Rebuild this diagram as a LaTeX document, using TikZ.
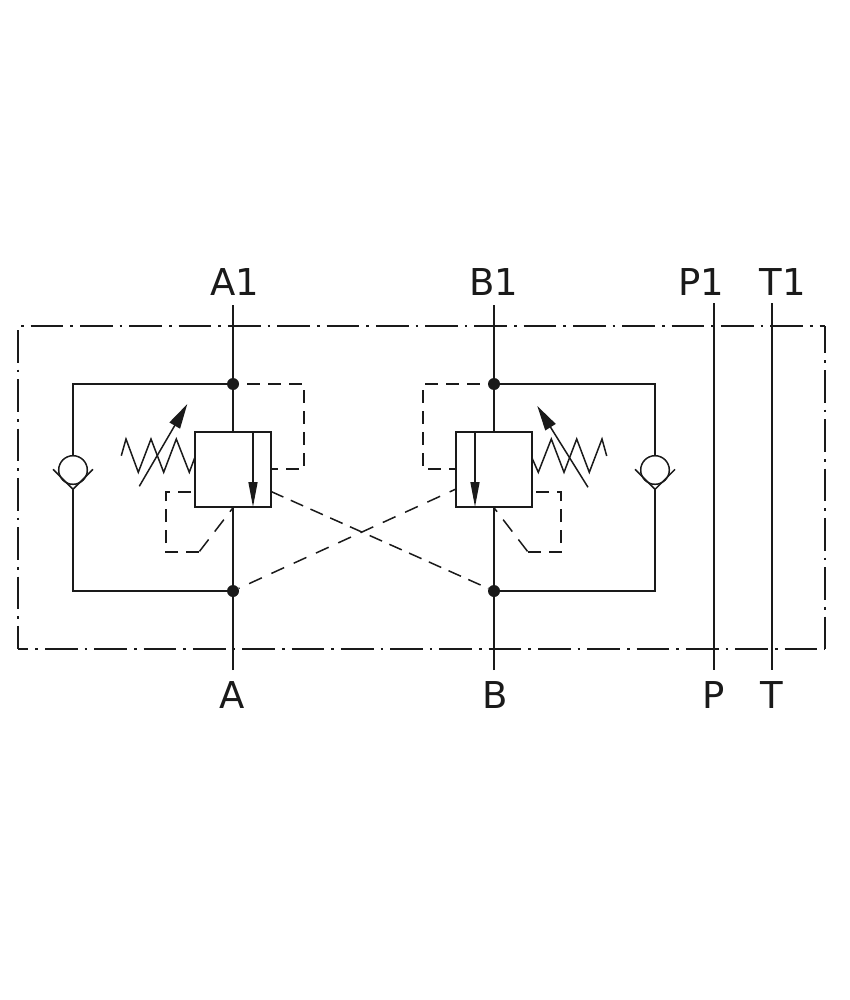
\documentclass[tikz,border=0pt]{standalone}
\usepackage{fontspec}
\setmainfont{DejaVu Sans}
\usetikzlibrary{arrows.meta}
\definecolor{ink}{HTML}{1A1A1A}
\tikzset{
  line/.style={draw=ink,line width=1.5pt,line join=miter},
  pilot/.style={line,dash pattern=on 13pt off 8pt},
  crossa/.style={line,dash pattern=on 13.6pt off 8pt},
  crossb/.style={line,dash pattern=on 14pt off 10.5pt,dash phase=7},
  pilotdiag/.style={line,dash pattern=on 15pt off 10pt,dash phase=10},
  frameline/.style={line,dash pattern=on 32.7pt off 7pt on 2.6pt off 7pt},
  valve/.style={line,rectangle,minimum width=76pt,minimum height=75pt,inner sep=0pt,fill=none},
  junction/.style={circle,fill=ink,minimum size=12pt,inner sep=0pt},
  ball/.style={line,circle,minimum size=28.6pt,inner sep=0pt},
  port/.style={text=ink,font=\fontsize{37}{40}\selectfont,inner sep=0pt},
  flow/.style={line,-{Triangle[length=25pt,width=9pt]}},
  adjust/.style={line,-{Triangle[length=25pt,width=12pt]}}
}
\begin{document}
\begin{tikzpicture}[x=1pt,y=-1pt]
\useasboundingbox (0,0) rectangle (850,1000);
% frame
\coordinate (fTL) at (18,326);
\coordinate (fTR) at (825,326);
\coordinate (fBR) at (825,649);
\coordinate (fBL) at (18,649);
\draw[frameline,dash phase=36.6] (fTL) -- (fTR);
\draw[frameline,dash phase=22.3] (fBL) -- (fBR);
\draw[frameline,dash phase=45.3] (fTL) -- (fBL);
\draw[frameline,dash phase=5.3] (fTR) -- (fBR);
% port labels
\node[port] (A1) at (234.5,282.5) {A1};
\node[port] (B1) at (494,282.5) {B1};
\node[port] (P1) at (701,282.5) {P1};
\node[port] (T1) at (782.5,282.5) {T1};
\node[port] (A) at (232,695.5) {A};
\node[port] (B) at (495,695.5) {B};
\node[port] (P) at (714,695.5) {P};
\node[port] (T) at (772,695.5) {T};
% stub ends
\coordinate (a1e) at (233,305);
\coordinate (ae) at (233,670);
\coordinate (b1e) at (494,305);
\coordinate (be) at (494,670);
\coordinate (p1e) at (714,303);
\coordinate (pe) at (714,670);
\coordinate (t1e) at (772,303);
\coordinate (te) at (772,670);
\draw[line] (p1e) -- (pe);
\draw[line] (t1e) -- (te);
% junctions
\node[junction] (jLT) at (233,384) {};
\node[junction] (jLB) at (233,591) {};
\node[junction] (jRT) at (494,384) {};
\node[junction] (jRB) at (494,591) {};
% valves
\node[valve,draw] (vL) at (233,469.5) {};
\node[valve,draw] (vR) at (494,469.5) {};
\draw[line] (a1e) -- (jLT) -- (vL.north);
\draw[line] (ae) -- (jLB) -- (vL.south);
\draw[line] (b1e) -- (jRT) -- (vR.north);
\draw[line] (be) -- (jRB) -- (vR.south);
% inner arrows
\coordinate (fLt) at (253,432);
\coordinate (fLb) at (253,507);
\coordinate (fRt) at (475,432);
\coordinate (fRb) at (475,507);
\draw[flow] (fLt) -- (fLb);
\draw[flow] (fRt) -- (fRb);
% check valves
\node[ball,draw] (cL) at (73,470) {};
\node[ball,draw] (cR) at (655,470) {};
\coordinate (vLl) at (53,469.3);
\coordinate (vLm) at (73,489.3);
\coordinate (vLr) at (93,469.3);
\coordinate (vRl) at (635,469.3);
\coordinate (vRm) at (655,489.3);
\coordinate (vRr) at (675,469.3);
\draw[line] (vLl) -- (vLm) -- (vLr);
\draw[line] (vRl) -- (vRm) -- (vRr);
\coordinate (lTc) at (73,384);
\coordinate (lBc) at (73,591);
\coordinate (rTc) at (655,384);
\coordinate (rBc) at (655,591);
\draw[line] (jLT) -- (lTc) -- (cL.north);
\draw[line] (jLB) -- (lBc) -- (vLm);
\draw[line] (jRT) -- (rTc) -- (cR.north);
\draw[line] (jRB) -- (rBc) -- (vRm);
% springs
\draw[line] (121.3,455.7) -- (126,439) -- (138.3,472.3) -- (151,439) -- (163.7,472.3) -- (176.3,439) -- (189.3,472.3) -- (195,457);
\draw[line] (532,458) -- (538.3,472.3) -- (551.3,439) -- (564,472.3) -- (576.7,439) -- (589.3,472.3) -- (602,439) -- (606.7,456);
\coordinate (aLs) at (139.3,486.3);
\coordinate (aLe) at (187.3,404);
\coordinate (aRs) at (588,487.3);
\coordinate (aRe) at (537.3,406);
\draw[adjust] (aLs) -- (aLe);
\draw[adjust] (aRs) -- (aRe);
% pilot lines
\coordinate (pA) at (304,384);
\coordinate (pB) at (304,469);
\coordinate (pC) at (271,469);
\draw[pilot,dash phase=13] (jLT.east) -- (pA) -- (pB) -- (pC);
\coordinate (qA) at (423,384);
\coordinate (qB) at (423,469);
\coordinate (qC) at (456,469);
\draw[pilot,dash phase=13] (jRT.west) -- (qA) -- (qB) -- (qC);
\coordinate (rA) at (193,492);
\coordinate (rB) at (166,492);
\coordinate (rC) at (166,552);
\coordinate (rD) at (199,552);
\draw[pilot] (rD) -- (rC) -- (rB) -- (rA);
\draw[pilotdiag] (vL.south) -- (rD);
\coordinate (sA) at (534.5,492);
\coordinate (sB) at (561,492);
\coordinate (sC) at (561,552);
\coordinate (sD) at (528,552);
\draw[pilot] (sD) -- (sC) -- (sB) -- (sA);
\draw[pilotdiag] (vR.south) -- (sD);
\coordinate (xL) at (271,491.5);
\coordinate (xR) at (456,489);
\draw[crossa] (xL) -- (jRB);
\draw[crossb] (xR) -- (jLB);
\end{tikzpicture}
\end{document}
